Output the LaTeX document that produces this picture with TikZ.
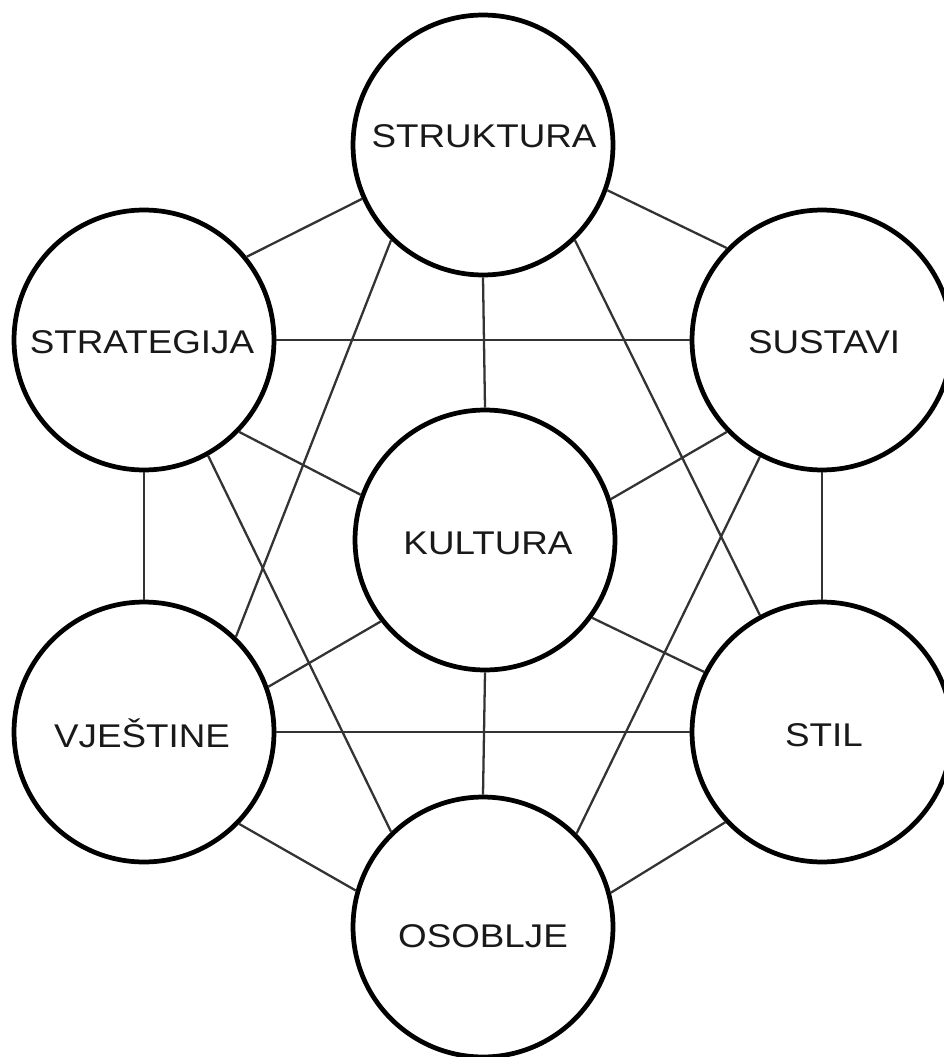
\documentclass[tikz,border=0pt]{standalone}
\usepackage{fontspec}
\setmainfont{Liberation Sans}[FakeStretch=1.12]
\begin{document}
\begin{tikzpicture}[x=0.02cm,y=-0.02cm,
  circ/.style={circle,draw=black,line width=2.7pt,fill=white,minimum size=5.2cm,inner sep=0pt},
  lbl/.style={font=\fontsize{18.7}{22}\selectfont,text=black!90,inner sep=0pt,anchor=base},
  link/.style={draw=black!80,line width=1.3pt}]
\useasboundingbox (0,0) rectangle (943,1057);
% circles
\node[circ] (A) at (483,145) {};
\node[circ] (B) at (144,340) {};
\node[circ] (C) at (822,340) {};
\node[circ] (K) at (485,540) {};
\node[circ] (V) at (144,732) {};
\node[circ] (S) at (822,732) {};
\node[circ] (O) at (483,927) {};
% labels
\node[lbl] (tA) at (484,148) {STRUKTURA};
\node[lbl] (tB) at (142,353) {STRATEGIJA};
\node[lbl] (tC) at (824,353) {SUSTAVI};
\node[lbl] (tK) at (488,554) {KULTURA};
\node[lbl] (tV) at (142,747) {VJEŠTINE};
\node[lbl] (tS) at (824,746) {STIL};
\node[lbl] (tO) at (483,947) {OSOBLJE};
% connectors
\draw[link] (A.204) -- (B.39);
\draw[link] (A.226) -- (V.46);
\draw[link] (A.south) -- (K.north);
\draw[link] (A.-20.5) -- (C.136);
\draw[link] (A.-46) -- (S.118.6);
\draw[link] (B.east) -- (C.west);
\draw[link] (B.-44) -- (K.160.7);
\draw[link] (B.south) -- (V.north);
\draw[link] (B.-61.7) -- (O.134.4);
\draw[link] (C.224.4) -- (K.18.6);
\draw[link] (C.south) -- (S.north);
\draw[link] (C.242.3) -- (O.45);
\draw[link] (K.218.9) -- (V.20.9);
\draw[link] (K.-36.5) -- (S.153.8);
\draw[link] (K.south) -- (O.north);
\draw[link] (V.east) -- (S.west);
\draw[link] (V.-44.4) -- (O.164.1);
\draw[link] (S.223.8) -- (O.15.9);
\end{tikzpicture}
\end{document}
